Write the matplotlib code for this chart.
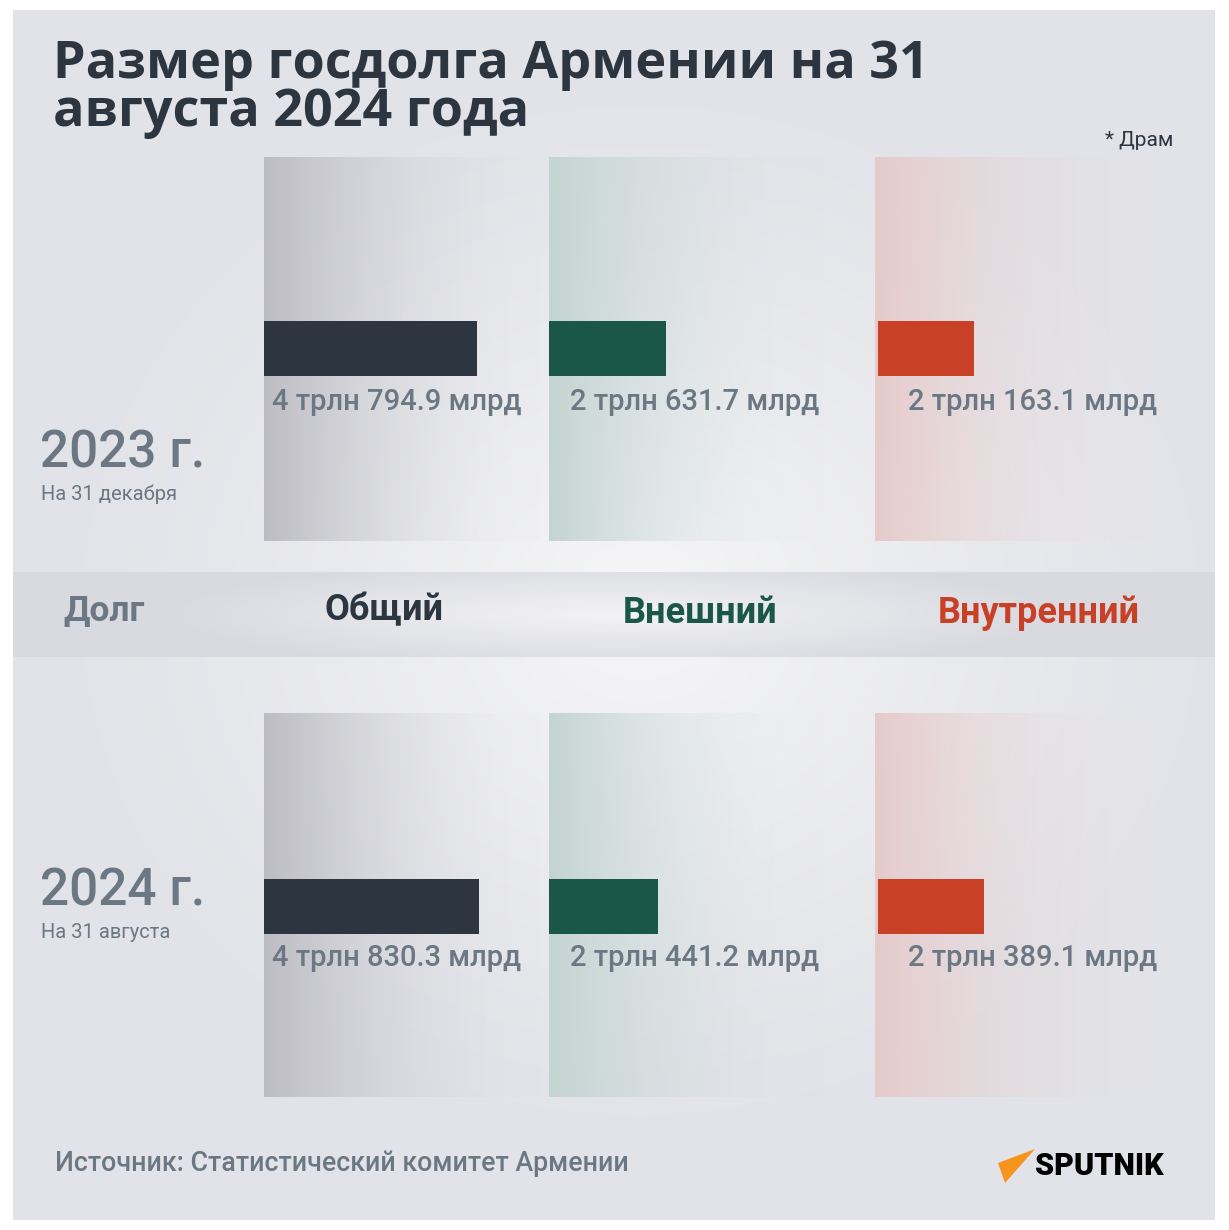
import numpy as np
import matplotlib.pyplot as plt
from matplotlib.colors import to_rgb
from matplotlib.patches import Polygon

# Debt of Armenia, billions of dram
categories = ['Общий', 'Внешний', 'Внутренний']
rows = ['2023 г.', '2024 г.']
row_notes = ['На 31 декабря', 'На 31 августа']
values_2023 = [4794.9, 2631.7, 2163.1]
values_2024 = [4830.3, 2441.2, 2389.1]
labels_2023 = ['4 трлн 794.9 млрд', '2 трлн 631.7 млрд', '2 трлн 163.1 млрд']
labels_2024 = ['4 трлн 830.3 млрд', '2 трлн 441.2 млрд', '2 трлн 389.1 млрд']

W, H = 1229, 1230
DARK = '#2d3640'
GREY = '#6b7783'
bar_colors = ['#2d3640', '#1a5749', '#c84126']
panel_colors = ['#bcbcc2', '#c3d4d1', '#e6caca']
col_x = [264, 549, 875]
bar_x = [264, 549, 878]
label_x = [272, 570, 908]
panel_top = [157, 713]
bar_top = [321, 879]
label_y = [402, 958]
px_per_value = 0.0445

fig = plt.figure(figsize=(W / 100, H / 100), dpi=100)
fig.patch.set_facecolor('white')
bg = fig.add_axes([0, 0, 1, 1])
bg.axis('off')

# card background with a soft light spot in the middle
cx0, cy0, cx1, cy1 = 13, 10, 1215, 1220
yy, xx = np.mgrid[cy0:cy1, cx0:cx1]
d = np.sqrt(((xx - 640) / 620.0) ** 2 + ((yy - 610) / 560.0) ** 2)
t = np.clip(1 - d, 0, 1) ** 1.3
edge = np.array(to_rgb('#e2e3e8'))
center = np.array(to_rgb('#f6f6f8'))
img = edge + (center - edge) * t[..., None]
bg.imshow(img, extent=(cx0, cx1, cy1, cy0), aspect='auto', zorder=0)

# middle band
band_y0, band_y1 = 572, 657
BX, BY = np.meshgrid(np.linspace(-1, 1, 600), np.linspace(-1, 1, 60))
bt = np.clip(1 - np.sqrt((BX / 0.75) ** 2 + (BY / 1.3) ** 2), 0, 1)
b_edge = np.array(to_rgb('#d9dae0'))
b_center = np.array(to_rgb('#f3f3f5'))
band = b_edge + (b_center - b_edge) * bt[..., None]
bg.imshow(band, extent=(cx0, cx1, band_y1, band_y0), aspect='auto', zorder=1)

# column panels with gradients fading to the right
for top in panel_top:
    for x0, pc in zip(col_x, panel_colors):
        grad = np.zeros((2, 300, 4))
        grad[..., :3] = to_rgb(pc)
        grad[..., 3] = np.linspace(1, 0, 300) ** 2.2
        bg.imshow(grad, extent=(x0, x0 + 300, top + 384, top), aspect='auto', zorder=2)

bg.set_xlim(0, W)
bg.set_ylim(H, 0)

# bars, one small axes per cell, x axis in billions of dram
for top, vals, labs, ly in [(bar_top[0], values_2023, labels_2023, label_y[0]),
                            (bar_top[1], values_2024, labels_2024, label_y[1])]:
    for i in range(3):
        ax = fig.add_axes([bar_x[i] / W, 1 - (top + 55) / H, 300 / W, 55 / H])
        ax.barh(0, vals[i], height=1, color=bar_colors[i])
        ax.set_xlim(0, 300 / px_per_value)
        ax.set_ylim(-0.5, 0.5)
        ax.axis('off')
        bg.text(label_x[i], ly, labs[i], fontsize=21, color=GREY, family='Roboto',
                fontweight='medium', va='center', ha='left', zorder=5)

# title and notes
bg.text(53, 78, 'Размер госдолга Армении на 31', fontsize=37.5, fontweight='bold',
        color=DARK, family='Open Sans', va='baseline', zorder=5)
bg.text(53, 126, 'августа 2024 года', fontsize=37.5, fontweight='bold',
        color=DARK, family='Open Sans', va='baseline', zorder=5)
bg.text(1173, 146, '* Драм', fontsize=15, color=DARK, family='Roboto',
        ha='right', va='baseline', zorder=5)

# row labels
for r, base in zip(range(2), [468, 906]):
    bg.text(40, base, rows[r], fontsize=37, color=GREY, family='Roboto',
            fontweight='medium', va='baseline', zorder=5)
    bg.text(41, base + 32, row_notes[r], fontsize=14.5, color=GREY, family='Roboto',
            va='baseline', zorder=5)

# band labels
bg.text(63, 620, 'Долг', fontsize=25.5, color=GREY, family='Roboto', fontweight='bold',
        va='baseline', zorder=5)
band_x = [324, 623, 938]
band_base = [620, 623, 623]
for i in range(3):
    bg.text(band_x[i], band_base[i], categories[i], fontsize=26, color=bar_colors[i],
            family='Roboto', fontweight='bold', va='baseline', zorder=5)

# source and logo
bg.text(55, 1171, 'Источник: Статистический комитет Армении', fontsize=19.3, color=GREY,
        family='Roboto', fontweight='medium', va='baseline', zorder=5)
bg.add_patch(Polygon([(998, 1163), (1035, 1149), (1005, 1183)], closed=True,
                     facecolor='#f7941d', edgecolor='none', zorder=5))
bg.text(1035, 1166, 'SPUTNIK', fontsize=22, color='black', family='Roboto',
        fontweight='black', va='center', ha='left', zorder=5)

fig.savefig('out.png', dpi=100, facecolor='white')
